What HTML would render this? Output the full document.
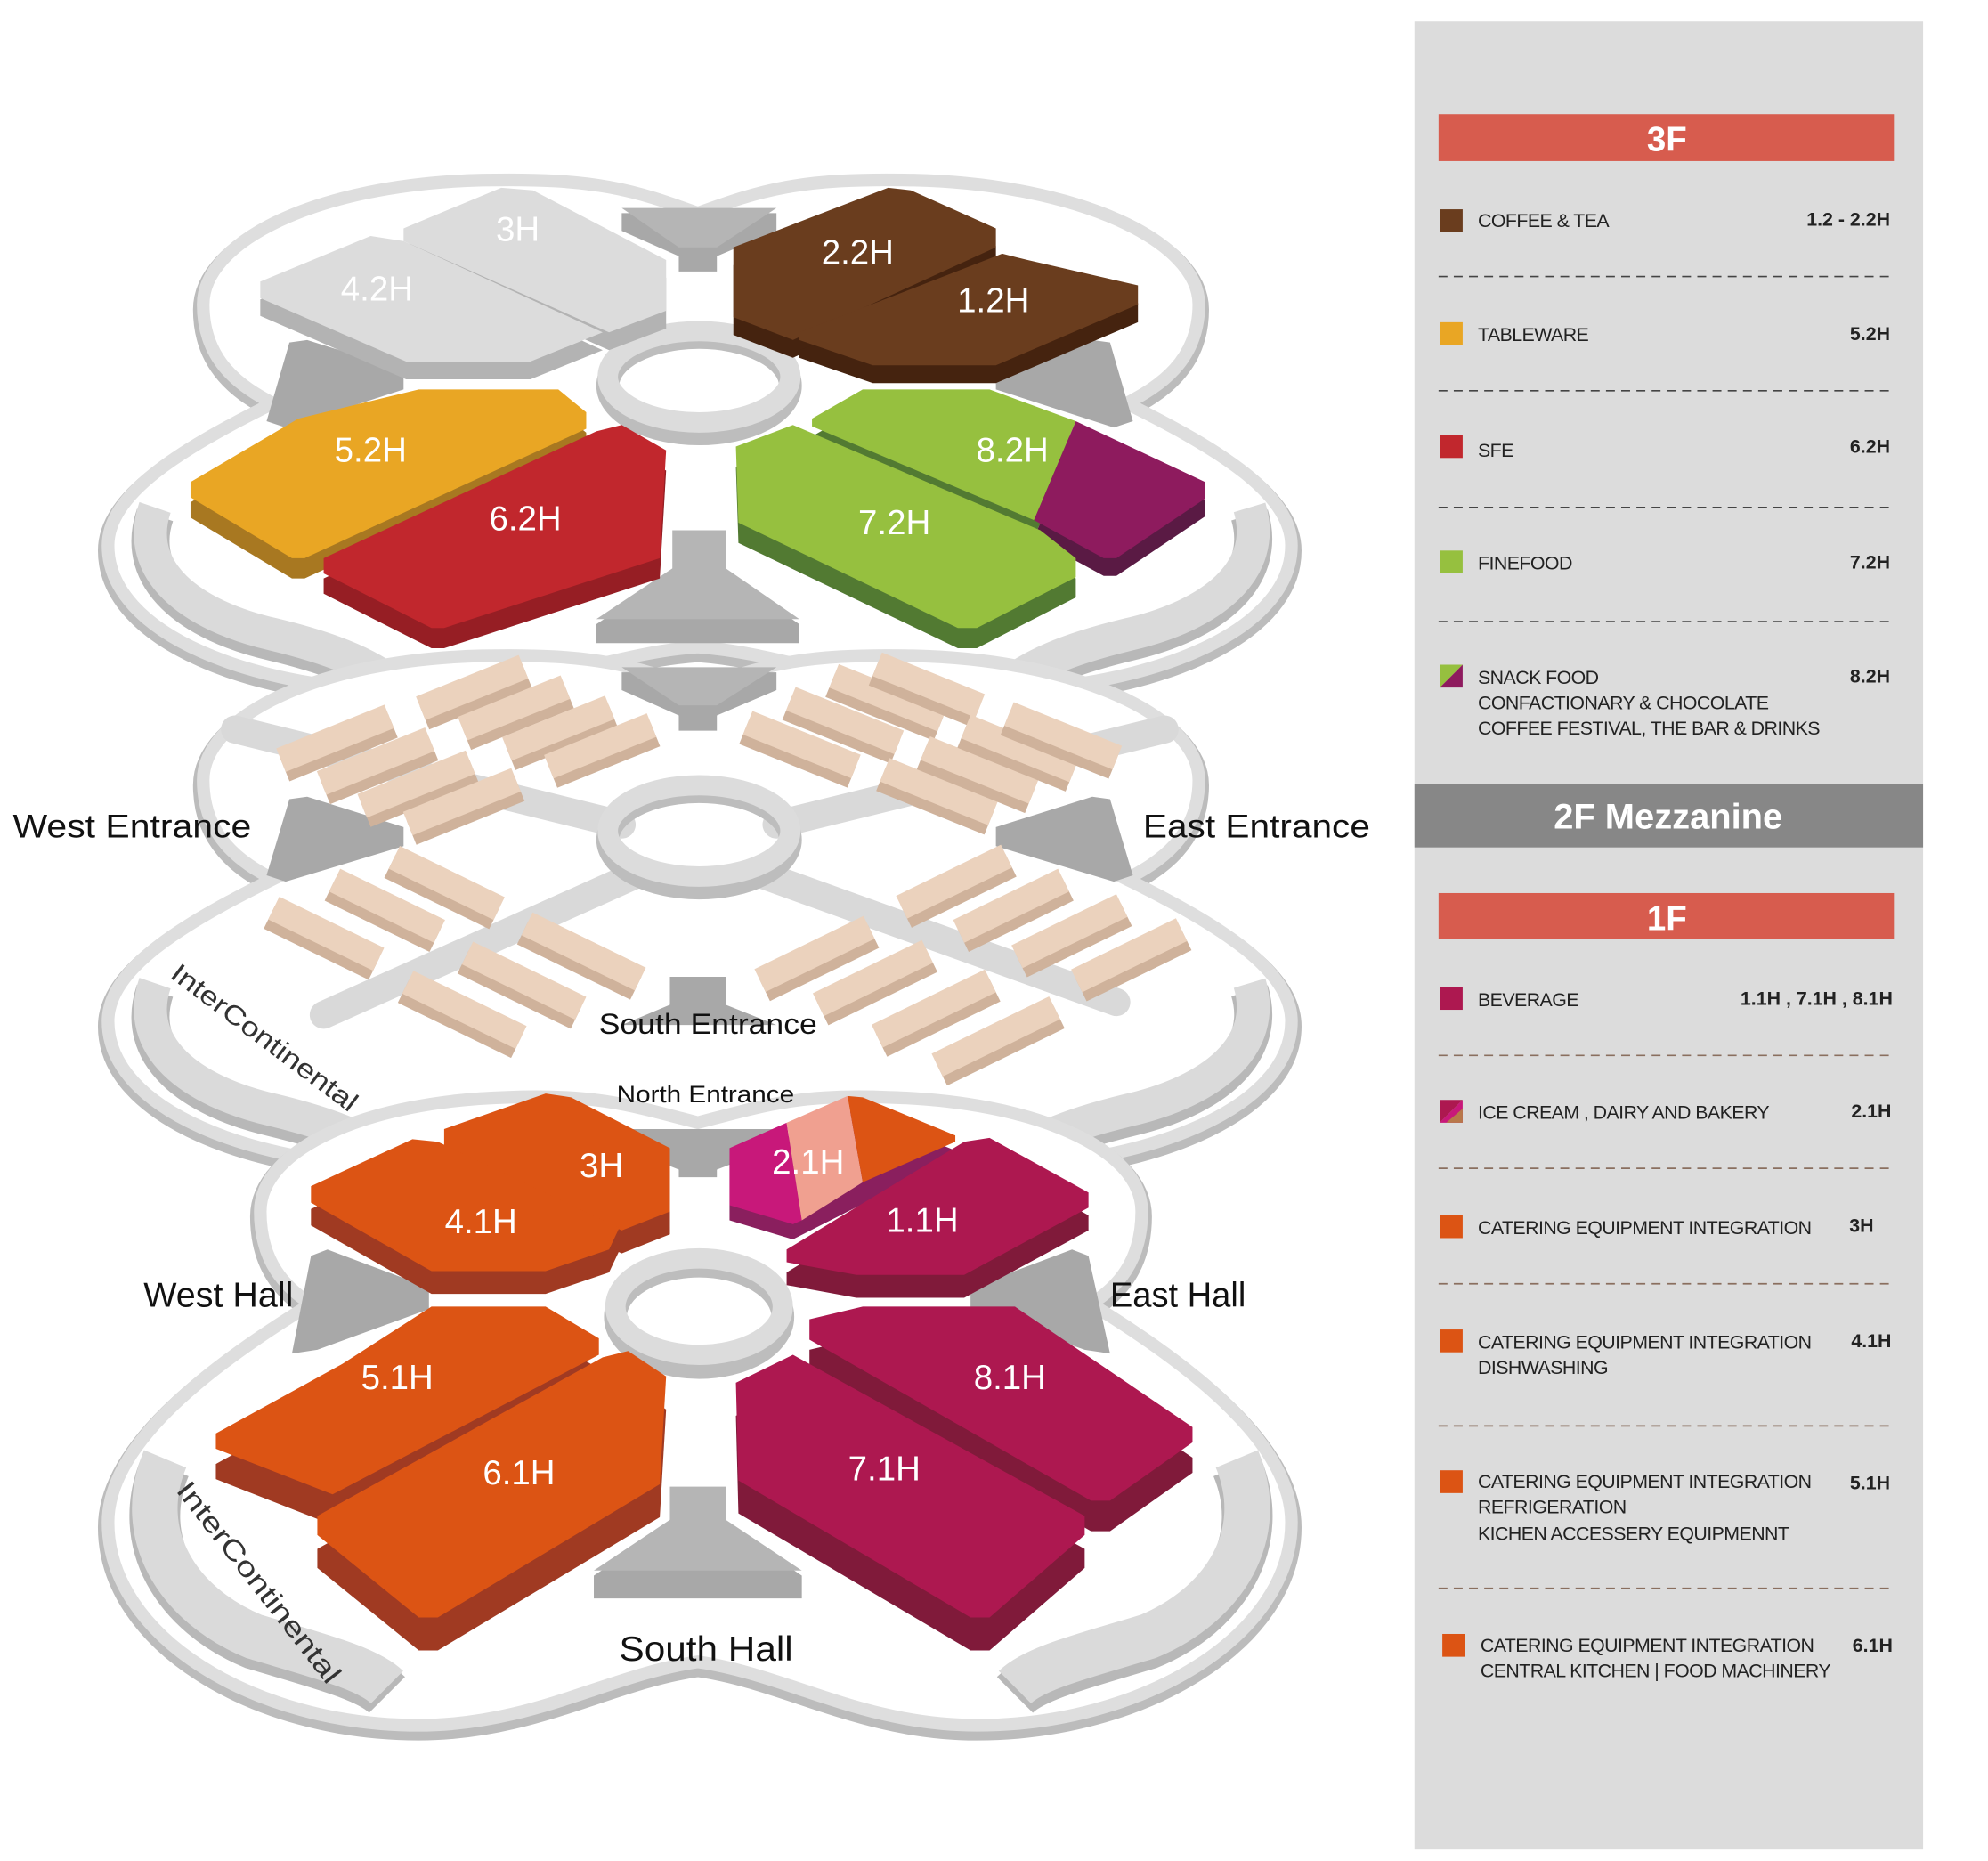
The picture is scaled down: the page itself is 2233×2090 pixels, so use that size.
<!DOCTYPE html>
<html><head><meta charset="utf-8"><style>
html,body{margin:0;padding:0;background:#fff;}
svg{display:block;}
text{font-family:"Liberation Sans",sans-serif;}
</style></head><body>
<svg width="2233" height="2090" viewBox="0 0 1567 1467" xmlns="http://www.w3.org/2000/svg">
<defs>
<path id="clover" d="M550 168 C500 150 470 140 380 142 C250 145 160 190 160 240 C160 285 190 305 215 318 C140 355 85 390 85 430 C85 500 200 545 330 545 C420 545 480 515 550 510 C620 515 680 545 770 545 C900 545 1018 500 1018 430 C1018 390 963 355 888 318 C913 305 945 285 945 240 C945 190 850 145 720 142 C630 140 600 150 550 168 Z"/>
<path id="c1" d="M550 885 C500 872 470 862 400 865 C290 868 205 905 205 955 C205 995 225 1015 245 1028 C160 1080 85 1140 85 1200 C85 1290 200 1360 330 1360 C420 1360 480 1320 550 1310 C620 1320 680 1360 770 1360 C900 1360 1018 1290 1018 1200 C1018 1140 945 1080 860 1028 C880 1015 900 995 900 955 C900 905 815 868 700 865 C630 862 600 872 550 885 Z"/>
<path id="bandL" d="M122 400 C105 450 150 485 215 500 C265 512 295 525 318 545"/>
<path id="bandR" d="M985 400 C1000 450 955 485 890 500 C840 512 810 525 787 545"/>
<g id="bench"><rect x="-46" y="-2" width="92" height="20" fill="#cfb29b"/><rect x="-46" y="-10" width="92" height="20" fill="#ebd2bd"/></g>
</defs>

<!-- ===== 3F ===== -->
<g>
<use href="#clover" fill="#fff" stroke="#bcbcbc" stroke-width="16" transform="translate(0,4)"/>
<use href="#clover" fill="#fff" stroke="#dedede" stroke-width="10"/>
<use href="#bandL" fill="none" stroke="#b8b8b8" stroke-width="30" transform="translate(0,6)"/>
<use href="#bandL" fill="none" stroke="#dadada" stroke-width="26"/>
<use href="#bandR" fill="none" stroke="#b8b8b8" stroke-width="30" transform="translate(0,6)"/>
<use href="#bandR" fill="none" stroke="#dadada" stroke-width="26"/>
<polygon points="490,168 612,168 612,182 565,202 565,214 535,214 535,202 490,182" fill="#a8a8a8"/>
<polygon points="490,164 612,164 565,195 535,195" fill="#b5b5b5"/>
<polygon points="210,332 228,270 242,268 318,292 318,307 225,337" fill="#a8a8a8"/>
<polygon points="893,332 875,270 861,268 785,292 785,307 878,337" fill="#a8a8a8"/>
<polygon points="470,492 530,452 530,418 572,418 572,452 630,492 630,507 470,507" fill="#a8a8a8"/>
<polygon points="470,488 530,448 530,418 572,418 572,448 630,488" fill="#b5b5b5"/>
<ellipse cx="551" cy="304" rx="72" ry="38" fill="none" stroke="#bdbdbd" stroke-width="18"/>
<ellipse cx="551" cy="297" rx="72" ry="36" fill="none" stroke="#dcdcdc" stroke-width="16"/>
<g fill="#b3b3b3"><polygon transform="translate(0,14)" points="205,222 292,186 318,190 475,262 418,285 320,285 205,235"/><polygon transform="translate(0,14)" points="318,180 395,148 420,150 525,205 525,245 480,262 318,190"/></g>
<polygon points="205,222 292,186 318,190 475,262 418,285 320,285 205,235" fill="#dcdcdc"/>
<polygon points="318,180 395,148 420,150 525,205 525,245 480,262 318,190" fill="#dcdcdc"/>
<g fill="#45230f"><polygon transform="translate(0,14)" points="578,195 700,148 718,150 785,180 785,195 625,268 578,250"/><polygon transform="translate(0,14)" points="630,262 790,200 810,205 897,225 897,240 785,288 688,288 630,268"/></g>
<polygon points="578,195 700,148 718,150 785,180 785,195 625,268 578,250" fill="#6a3d1e"/>
<polygon points="630,262 790,200 810,205 897,225 897,240 785,288 688,288 630,268" fill="#6a3d1e"/>
<polygon transform="translate(0,16)" points="150,380 235,330 330,307 440,307 462,325 462,338 240,440 230,440 150,392" fill="#a87821"/>
<polygon points="150,380 235,330 330,307 440,307 462,325 462,338 240,440 230,440 150,392" fill="#e9a624"/>
<polygon transform="translate(0,16)" points="255,440 470,340 490,335 525,355 520,440 350,495 340,495 255,452" fill="#961e24"/>
<polygon points="255,440 470,340 490,335 525,355 520,440 350,495 340,495 255,452" fill="#c1272d"/>
<polygon transform="translate(0,14)" points="640,330 680,307 780,307 848,332 815,410 640,336" fill="#527a32"/>
<polygon points="640,330 680,307 780,307 848,332 815,410 640,336" fill="#96c03f"/>
<polygon transform="translate(0,14)" points="848,332 950,380 950,393 880,440 870,440 815,410" fill="#5a1a44"/>
<polygon points="848,332 950,380 950,393 880,440 870,440 815,410" fill="#8e1b5e"/>
<polygon transform="translate(0,16)" points="580,352 625,335 820,418 848,440 848,455 770,495 755,495 582,412" fill="#527a32"/>
<polygon points="580,352 625,335 820,418 848,440 848,455 770,495 755,495 582,412" fill="#96c03f"/>
<g fill="#fff" font-size="27" text-anchor="middle">
<text x="408" y="190">3H</text><text x="297" y="237">4.2H</text><text x="676" y="208">2.2H</text><text x="783" y="246">1.2H</text>
<text x="292" y="364">5.2H</text><text x="414" y="418">6.2H</text><text x="798" y="364">8.2H</text><text x="705" y="421">7.2H</text>
</g>
</g>

<!-- ===== 2F ===== -->
<g>
<use href="#clover" fill="#fff" stroke="#bcbcbc" stroke-width="16" transform="translate(0,379)"/>
<use href="#clover" fill="#fff" stroke="#dedede" stroke-width="10" transform="translate(0,375)"/>
<g stroke="#d9d9d9" stroke-width="22" fill="none" stroke-linecap="round">
<line x1="185" y1="575" x2="490" y2="650"/><line x1="918" y1="575" x2="612" y2="650"/>
<line x1="255" y1="800" x2="500" y2="690"/><line x1="880" y1="790" x2="602" y2="690"/>
</g>
<g transform="translate(0,375)">
<use href="#bandL" fill="none" stroke="#b8b8b8" stroke-width="30" transform="translate(0,6)"/>
<use href="#bandL" fill="none" stroke="#dadada" stroke-width="26"/>
<use href="#bandR" fill="none" stroke="#b8b8b8" stroke-width="30" transform="translate(0,6)"/>
<use href="#bandR" fill="none" stroke="#dadada" stroke-width="26"/>
</g>
<polygon points="490,530 612,530 612,544 565,564 565,576 535,576 535,564 490,544" fill="#a8a8a8"/>
<polygon points="490,526 612,526 565,556 535,556" fill="#b5b5b5"/>
<polygon points="210,690 228,630 242,628 318,652 318,667 225,695" fill="#a8a8a8"/>
<polygon points="893,690 875,630 861,628 785,652 785,667 878,695" fill="#a8a8a8"/>
<polygon points="528,770 572,770 572,792 612,808 490,808 528,792" fill="#a8a8a8"/>
<ellipse cx="551" cy="662" rx="72" ry="38" fill="none" stroke="#bdbdbd" stroke-width="18"/>
<ellipse cx="551" cy="655" rx="72" ry="36" fill="none" stroke="#dcdcdc" stroke-width="16"/>
<use href="#bench" transform="translate(264,582) rotate(-22)"/>
<use href="#bench" transform="translate(296,600) rotate(-22)"/>
<use href="#bench" transform="translate(328,618) rotate(-22)"/>
<use href="#bench" transform="translate(364,632) rotate(-22)"/>
<use href="#bench" transform="translate(372,542) rotate(-22) scale(0.95,1)"/>
<use href="#bench" transform="translate(405,558) rotate(-22) scale(0.95,1)"/>
<use href="#bench" transform="translate(440,574) rotate(-22) scale(0.95,1)"/>
<use href="#bench" transform="translate(473,588) rotate(-22) scale(0.95,1)"/>
<use href="#bench" transform="translate(632,587) rotate(22)"/>
<use href="#bench" transform="translate(666,568) rotate(22)"/>
<use href="#bench" transform="translate(700,550) rotate(22)"/>
<use href="#bench" transform="translate(732,540) rotate(22) scale(0.95,1)"/>
<use href="#bench" transform="translate(740,624) rotate(22)"/>
<use href="#bench" transform="translate(772,607) rotate(22)"/>
<use href="#bench" transform="translate(804,590) rotate(22)"/>
<use href="#bench" transform="translate(838,580) rotate(22)"/>
<use href="#bench" transform="translate(257,736) rotate(26)"/>
<use href="#bench" transform="translate(305,714) rotate(26)"/>
<use href="#bench" transform="translate(352,696) rotate(26)"/>
<use href="#bench" transform="translate(366,796) rotate(26) scale(1.08,1)"/>
<use href="#bench" transform="translate(413,773) rotate(26) scale(1.08,1)"/>
<use href="#bench" transform="translate(460,750) rotate(26) scale(1.08,1)"/>
<use href="#bench" transform="translate(752,695) rotate(-26)"/>
<use href="#bench" transform="translate(797,714) rotate(-26)"/>
<use href="#bench" transform="translate(843,734) rotate(-26)"/>
<use href="#bench" transform="translate(890,753) rotate(-26)"/>
<use href="#bench" transform="translate(642,752) rotate(-26) scale(1.04,1)"/>
<use href="#bench" transform="translate(688,771) rotate(-26) scale(1.04,1)"/>
<use href="#bench" transform="translate(736,795) rotate(-26) scale(1.08,1)"/>
<use href="#bench" transform="translate(785,817) rotate(-26) scale(1.12,1)"/>
<g font-size="26" fill="#111">
<text x="10" y="660" textLength="188" lengthAdjust="spacingAndGlyphs">West Entrance</text>
<text x="901" y="660" textLength="179" lengthAdjust="spacingAndGlyphs">East Entrance</text>
<text x="472" y="815" font-size="23" textLength="172" lengthAdjust="spacingAndGlyphs">South Entrance</text>
</g>
<text transform="translate(133,770) rotate(37)" font-size="21" fill="#333" textLength="178" lengthAdjust="spacingAndGlyphs">InterContinental</text>
</g>

<!-- ===== 1F ===== -->
<g>
<use href="#c1" fill="#fff" stroke="#bcbcbc" stroke-width="16" transform="translate(0,4)"/>
<use href="#c1" fill="#fff" stroke="#dedede" stroke-width="10"/>
<path d="M130 1150 C105 1210 140 1265 200 1290 C250 1305 290 1315 305 1330" fill="none" stroke="#b8b8b8" stroke-width="40" transform="translate(0,6)"/>
<path d="M130 1150 C105 1210 140 1265 200 1290 C250 1305 290 1315 305 1330" fill="none" stroke="#dadada" stroke-width="36"/>
<path d="M975 1150 C1000 1210 965 1265 905 1290 C855 1305 815 1315 800 1330" fill="none" stroke="#b8b8b8" stroke-width="40" transform="translate(0,6)"/>
<path d="M975 1150 C1000 1210 965 1265 905 1290 C855 1305 815 1315 800 1330" fill="none" stroke="#dadada" stroke-width="36"/>
<polygon points="490,890 612,890 612,904 565,922 565,928 535,928 535,922 490,904" fill="#a8a8a8"/>
<polygon points="230,1067 245,990 258,985 338,1015 338,1032 250,1064" fill="#a8a8a8"/>
<polygon points="875,1067 858,990 845,985 765,1015 765,1032 855,1064" fill="#a8a8a8"/>
<polygon points="468,1242 528,1202 528,1172 572,1172 572,1202 632,1242 632,1260 468,1260" fill="#a8a8a8"/>
<polygon points="468,1238 528,1198 528,1172 572,1172 572,1198 632,1238" fill="#b5b5b5"/>
<ellipse cx="551" cy="1038" rx="66" ry="40" fill="none" stroke="#bdbdbd" stroke-width="18"/>
<ellipse cx="551" cy="1030" rx="66" ry="38" fill="none" stroke="#dcdcdc" stroke-width="16"/>
<polygon transform="translate(0,18)" points="350,890 430,862 450,865 528,905 528,955 490,970 350,905" fill="#a03a22"/>
<polygon points="350,890 430,862 450,865 528,905 528,955 490,970 350,905" fill="#dc5414"/>
<polygon transform="translate(0,18)" points="245,935 325,898 345,900 488,968 480,985 430,1002 340,1002 245,948" fill="#a03a22"/>
<polygon points="245,935 325,898 345,900 488,968 480,985 430,1002 340,1002 245,948" fill="#dc5414"/>
<polygon transform="translate(0,12)" points="575,905 668,864 680,865 753,895 753,900 625,965 575,950" fill="#8a1f5e"/>
<polygon points="575,905 620,885 632,962 625,965 575,950" fill="#c8187a"/>
<polygon points="620,885 668,864 680,932 632,962" fill="#f0a090"/>
<polygon points="668,864 680,865 753,895 753,900 680,932" fill="#dc5414"/>
<polygon transform="translate(0,18)" points="620,985 760,900 780,897 858,940 858,952 760,1005 675,1005 620,995" fill="#801a3a"/>
<polygon points="620,985 760,900 780,897 858,940 858,952 760,1005 675,1005 620,995" fill="#ad1850"/>
<polygon transform="translate(0,24)" points="170,1130 270,1075 340,1030 430,1030 472,1055 472,1068 262,1178 170,1142" fill="#a03a22"/>
<polygon points="170,1130 270,1075 340,1030 430,1030 472,1055 472,1068 262,1178 170,1142" fill="#dc5414"/>
<polygon transform="translate(0,26)" points="250,1195 475,1070 495,1065 525,1085 520,1170 345,1275 330,1275 250,1210" fill="#a03a22"/>
<polygon points="250,1195 475,1070 495,1065 525,1085 520,1170 345,1275 330,1275 250,1210" fill="#dc5414"/>
<polygon transform="translate(0,24)" points="638,1040 680,1030 800,1030 940,1125 940,1137 875,1183 860,1183 638,1056" fill="#801a3a"/>
<polygon points="638,1040 680,1030 800,1030 940,1125 940,1137 875,1183 860,1183 638,1056" fill="#ad1850"/>
<polygon transform="translate(0,26)" points="580,1090 625,1068 855,1195 855,1210 780,1275 765,1275 582,1167" fill="#801a3a"/>
<polygon points="580,1090 625,1068 855,1195 855,1210 780,1275 765,1275 582,1167" fill="#ad1850"/>
<g fill="#fff" font-size="27" text-anchor="middle">
<text x="474" y="928">3H</text><text x="379" y="972">4.1H</text><text x="637" y="925">2.1H</text><text x="727" y="971">1.1H</text>
<text x="313" y="1095">5.1H</text><text x="409" y="1170">6.1H</text><text x="796" y="1095">8.1H</text><text x="697" y="1167">7.1H</text>
</g>
<g font-size="27" fill="#111">
<text x="113" y="1030" textLength="118" lengthAdjust="spacingAndGlyphs">West Hall</text>
<text x="875" y="1030" textLength="107" lengthAdjust="spacingAndGlyphs">East Hall</text>
<text x="488" y="1309" textLength="137" lengthAdjust="spacingAndGlyphs">South Hall</text>
</g>
<text transform="translate(138,1175) rotate(52)" font-size="22" fill="#333" textLength="195" lengthAdjust="spacingAndGlyphs">InterContinental</text>
<text x="486" y="869" font-size="19" fill="#111" textLength="140" lengthAdjust="spacingAndGlyphs">North Entrance</text>
</g>

<!-- ===== Legend ===== -->
<rect x="1115" y="17" width="401" height="1441" fill="#dcdcdc"/>
<rect x="1134" y="90" width="359" height="37" fill="#d75c4e"/>
<text x="1314" y="119" font-size="27" font-weight="bold" fill="#fff" text-anchor="middle">3F</text>
<rect x="1115" y="618" width="401" height="50" fill="#878787"/>
<text x="1315" y="653" font-size="28" font-weight="bold" fill="#fff" text-anchor="middle">2F Mezzanine</text>
<rect x="1134" y="704" width="359" height="36" fill="#d75c4e"/>
<text x="1314" y="733" font-size="27" font-weight="bold" fill="#fff" text-anchor="middle">1F</text>

<g stroke="#444" stroke-width="1.2" stroke-dasharray="7,5">
<line x1="1134" y1="218" x2="1493" y2="218"/><line x1="1134" y1="308" x2="1493" y2="308"/>
<line x1="1134" y1="400" x2="1493" y2="400"/><line x1="1134" y1="490" x2="1493" y2="490"/>
</g>
<g stroke="#8a6f5f" stroke-width="1.2" stroke-dasharray="7,5">
<line x1="1134" y1="832" x2="1490" y2="832"/><line x1="1134" y1="921" x2="1490" y2="921"/>
<line x1="1134" y1="1012" x2="1490" y2="1012"/><line x1="1134" y1="1124" x2="1490" y2="1124"/>
<line x1="1134" y1="1252" x2="1493" y2="1252"/>
</g>

<rect x="1135" y="165" width="18" height="18" fill="#6a3d1e"/>
<rect x="1135" y="254" width="18" height="18" fill="#e9a624"/>
<rect x="1135" y="343" width="18" height="18" fill="#c1272d"/>
<rect x="1135" y="434" width="18" height="18" fill="#96c03f"/>
<polygon points="1135,524 1153,524 1135,542" fill="#96c03f"/><polygon points="1153,524 1153,542 1135,542" fill="#8e1b5e"/>
<rect x="1135" y="778" width="18" height="18" fill="#ad1850"/>
<polygon points="1135,867 1153,867 1135,885" fill="#ad1850"/><polygon points="1153,867 1153,885 1135,885" fill="#c8187a"/>
<polygon points="1153,874 1153,885 1140,885" fill="#b8784a"/>
<rect x="1135" y="958" width="18" height="18" fill="#dc5414"/>
<rect x="1135" y="1048" width="18" height="18" fill="#dc5414"/>
<rect x="1135" y="1159" width="18" height="18" fill="#dc5414"/>
<rect x="1137" y="1288" width="18" height="18" fill="#dc5414"/>

<g font-size="15" fill="#222" letter-spacing="-0.4">
<text x="1165" y="179">COFFEE &amp; TEA</text>
<text x="1165" y="269">TABLEWARE</text>
<text x="1165" y="360">SFE</text>
<text x="1165" y="449">FINEFOOD</text>
<text x="1165" y="539">SNACK FOOD</text>
<text x="1165" y="559">CONFACTIONARY &amp; CHOCOLATE</text>
<text x="1165" y="579">COFFEE FESTIVAL, THE BAR &amp; DRINKS</text>
<text x="1165" y="793">BEVERAGE</text>
<text x="1165" y="882">ICE CREAM , DAIRY AND BAKERY</text>
<text x="1165" y="973">CATERING EQUIPMENT INTEGRATION</text>
<text x="1165" y="1063">CATERING EQUIPMENT INTEGRATION</text>
<text x="1165" y="1083">DISHWASHING</text>
<text x="1165" y="1173">CATERING EQUIPMENT INTEGRATION</text>
<text x="1165" y="1193">REFRIGERATION</text>
<text x="1165" y="1214">KICHEN ACCESSERY EQUIPMENNT</text>
<text x="1167" y="1302">CATERING EQUIPMENT INTEGRATION</text>
<text x="1167" y="1322">CENTRAL KITCHEN  |  FOOD MACHINERY</text>
</g>
<g font-size="15" font-weight="bold" fill="#222" text-anchor="end">
<text x="1490" y="178">1.2 - 2.2H</text>
<text x="1490" y="268">5.2H</text>
<text x="1490" y="357">6.2H</text>
<text x="1490" y="448">7.2H</text>
<text x="1490" y="538">8.2H</text>
<text x="1492" y="792">1.1H , 7.1H , 8.1H</text>
<text x="1491" y="881">2.1H</text>
<text x="1477" y="971">3H</text>
<text x="1491" y="1062">4.1H</text>
<text x="1490" y="1174">5.1H</text>
<text x="1492" y="1302">6.1H</text>
</g>
</svg>
</body></html>
